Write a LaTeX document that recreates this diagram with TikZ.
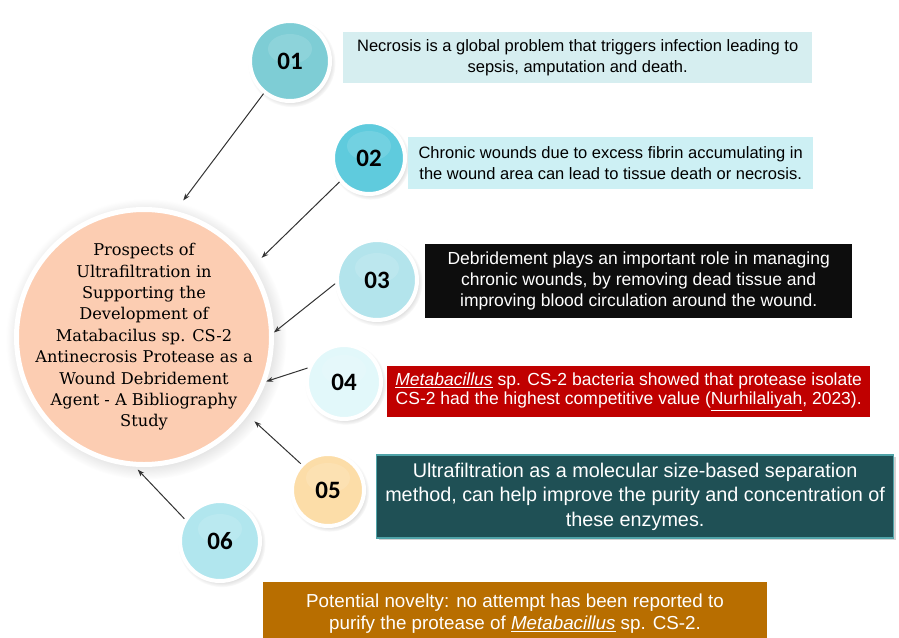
\documentclass[tikz,border=0pt]{standalone}
\usepackage{fontspec}
\setmainfont{Liberation Sans}
\newfontfamily\numfont{Carlito}
\newfontfamily\slabfont{DejaVu Serif}
\usepackage{tikz}
\usetikzlibrary{arrows.meta,positioning,shadows}
\definecolor{peach}{HTML}{FCCDB2}
\definecolor{teal1}{HTML}{7ECDD5}
\definecolor{teal2}{HTML}{5FCBDD}
\definecolor{teal3}{HTML}{B3E4EC}
\definecolor{teal4}{HTML}{E2F8FA}
\definecolor{sand}{HTML}{FCDDA8}
\definecolor{teal6}{HTML}{B1E6EE}
\definecolor{paleA}{HTML}{D6EEF0}
\definecolor{paleB}{HTML}{CDF0F4}
\definecolor{darkred}{HTML}{C00000}
\definecolor{petrol}{HTML}{1F5055}
\definecolor{petrolline}{HTML}{4FA3A8}
\definecolor{ochre}{HTML}{B86E00}

\begin{document}
\begin{tikzpicture}[
  x=1pt,y=-1pt,
  num/.style={circle,draw=white,line width=4pt,inner sep=0pt,
    font=\numfont\bfseries\fontsize{25}{28}\selectfont,
    circular drop shadow={shadow xshift=1.5pt,shadow yshift=-2pt,opacity=.3},
    path picture={\fill[white,opacity=.12] ([yshift=12pt]path picture bounding box.center) ellipse [x radius=22,y radius=15];}},
  note/.style={align=center,inner sep=0pt,font=\fontsize{16.5}{21}\selectfont},
  arrow/.style={-{Stealth[length=7pt,width=5pt]},line width=1pt,draw=black!80}
]
\useasboundingbox (0,0) rectangle (899,637);

% central topic
\node[circle,draw=white,line width=5pt,fill=peach,minimum size=255pt,inner sep=-30pt,align=center,
  font=\slabfont\fontsize{16.2}{21.4}\selectfont,
  circular drop shadow={shadow xshift=2pt,shadow yshift=-2pt,opacity=.3}] (main) at (144,337)
  {Prospects of\\Ultrafiltration in\\Supporting the\\Development of\\Matabacilus sp. CS-2\\Antinecrosis Protease as a\\Wound Debridement\\Agent - A Bibliography\\Study};

% numbered points
\node[num,fill=teal1,minimum size=80pt] (n1) at (290,61) {01};
\node[num,fill=teal2,minimum size=72pt] (n2) at (369,158) {02};
\node[num,fill=teal3,minimum size=80pt] (n3) at (377,280) {03};
\node[num,fill=teal4,minimum size=74pt] (n4) at (344,382) {04};
\node[num,fill=sand,minimum size=72pt] (n5) at (328,490) {05};
\node[num,fill=teal6,minimum size=80pt] (n6) at (220,541) {06};

% statements
\node[note,fill=paleA,minimum width=469pt,minimum height=51pt,right=11pt of n1,yshift=3.5pt] (s1)
  {Necrosis is a global problem that triggers infection leading to\\sepsis, amputation and death.};
\node[note,fill=paleB,minimum width=405pt,minimum height=52pt,right=1pt of n2,yshift=-5pt] (s2)
  {Chronic wounds due to excess fibrin accumulating in\\the wound area can lead to tissue death or necrosis.};
\node[note,fill=black!95,text=white,minimum width=427pt,minimum height=74pt,right=6pt of n3,yshift=-1pt,
  font=\fontsize{17.5}{20.8}\selectfont] (s3)
  {Debridement plays an important role in managing\\chronic wounds, by removing dead tissue and\\improving blood circulation around the wound.};
\node[note,fill=darkred,text=white,minimum width=483pt,minimum height=51pt,right=4pt of n4,yshift=-9.5pt,
  font=\fontsize{17.5}{19.5}\selectfont] (s4)
  {\underline{\textit{Metabacillus}} sp. CS-2 bacteria showed that protease isolate\\CS-2 had the highest competitive value (\underline{Nurhilaliyah}, 2023).};
\node[note,fill=petrol,draw=petrolline,line width=1.2pt,text=white,minimum width=517pt,minimum height=83pt,
  right=10pt of n5,yshift=-6.5pt,font=\fontsize{19.8}{24.5}\selectfont,
  drop shadow={shadow xshift=2pt,shadow yshift=-2pt,opacity=.35}] (s5)
  {Ultrafiltration as a molecular size-based separation\\method, can help improve the purity and concentration of\\these enzymes.};
\node[note,fill=ochre,text=white,minimum width=504pt,minimum height=63pt,font=\fontsize{18.8}{22}\selectfont] (s6) at (515,613.5)
  {Potential novelty: no attempt has been reported to\\purify the protease of \underline{\textit{Metabacillus}} sp. CS-2.};

% links to the topic
\draw[arrow,shorten >=13pt] (n1.231) -- (main.76);
\draw[arrow,shorten >=12pt] (n2.219) -- (main.33);
\draw[arrow] (n3.185) -- (main.2);
\draw[arrow] (n4.159) -- (main.-20);
\draw[arrow,shorten >=9pt] (n5.136) -- (main.-37);
\draw[arrow,shorten >=4pt] (n6.148) -- (main.-94);
\end{tikzpicture}
\end{document}
